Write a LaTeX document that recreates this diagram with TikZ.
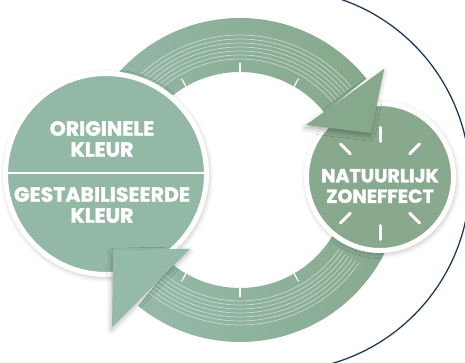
\documentclass[tikz,border=0pt]{standalone}
\usepackage{fontspec}
\newfontfamily\kleurfont{Poppins}[BoldFeatures={FakeBold=1.6}]
\usetikzlibrary{calc,shadows.blur}
\definecolor{groenL}{HTML}{95BAA9}
\definecolor{groenR}{HTML}{86A88C}
\definecolor{kleurL}{HTML}{93B8A6}
\definecolor{kleurR}{HTML}{88A98D}
\definecolor{navy}{HTML}{1C3A5E}

\begin{document}
\begin{tikzpicture}[x=1pt, y=1pt,
	disc/.style={circle, draw=white, line width=5pt, inner sep=0pt, blur shadow={shadow xshift=1pt, shadow yshift=-2pt, shadow blur radius=6pt, shadow opacity=35}},
	tekst/.style={text=white, font=\kleurfont\bfseries\fontsize{20.5}{21}\selectfont, align=center},
	ringline/.style={white, opacity=0.5, line width=0.7pt},
	ringtick/.style={white, line width=1.2pt},
	straal/.style={white, line width=3pt, line cap=round},
	pijlpunt/.style={blur shadow={shadow xshift=-1pt, shadow yshift=-3pt, shadow blur radius=5pt, shadow opacity=30}}]
	\clip (0,0) rectangle (465,363);
	\useasboundingbox (0,0) rectangle (465,363);

	% navy boog rechts
	\draw[navy, line width=1.3pt] (279,183) ++(76:191) arc[start angle=76, end angle=-79, radius=191];

	% ring
	\coordinate (m) at (240,183);
	\begin{scope}[shift={(m)}]
		\shade[left color=groenL, right color=groenR] (38.7:162) arc[start angle=38.7, end angle=200, radius=162] -- (200:108) arc[start angle=200, end angle=38.7, radius=108] -- cycle;
		\shade[left color=groenL, right color=groenR] (231:162) arc[start angle=231, end angle=370, radius=162] -- (370:108) arc[start angle=370, end angle=231, radius=108] -- cycle;
		\foreach \r in {121,125,...,145} {
			\draw[ringline] (40:\r) arc[start angle=40, end angle=133, radius=\r];
			\draw[ringline] (228:\r) arc[start angle=228, end angle=325, radius=\r];
		}
		\foreach \a in {60,90,120,240,270,300}
			\draw[ringtick] (\a:108) -- (\a:117);
	\end{scope}

	% originele / gestabiliseerde kleur
	\node[disc, fill=kleurL, minimum size=201pt] (orig) at (106,189) {};
	\draw[white, line width=1.5pt] ([yshift=1pt]orig.west) -- ([yshift=1pt]orig.east);
	\node[tekst] (boven) at (102,224) {ORIGINELE\\KLEUR};
	\node[tekst] (onder) at (102,158) {GESTABILISEERDE\\KLEUR};

	% natuurlijk zoneffect
	\node[disc, fill=kleurR, minimum size=147pt] (zon) at (380,186) {};
	\coordinate (zc) at (380,179.5);
	\foreach \a in {45,90,135,225,270,315}
		\draw[straal] ($(zc)+(\a:42)$) -- ($(zc)+(\a:56)$);
	\node[tekst, font=\kleurfont\bfseries\fontsize{19}{20.5}\selectfont] (effect) at (380,177) {NATUURLIJK\\ZONEFFECT};

	% pijlpunten
	\fill[groenR, pijlpunt, shift={(m)}] (37.6:182) -- (19.7:139) -- (39.8:86) -- cycle;
	\fill[groenL, pijlpunt, shift={(m)}] (234:85) -- (209:145) -- (229:195) -- cycle;
\end{tikzpicture}
\end{document}
